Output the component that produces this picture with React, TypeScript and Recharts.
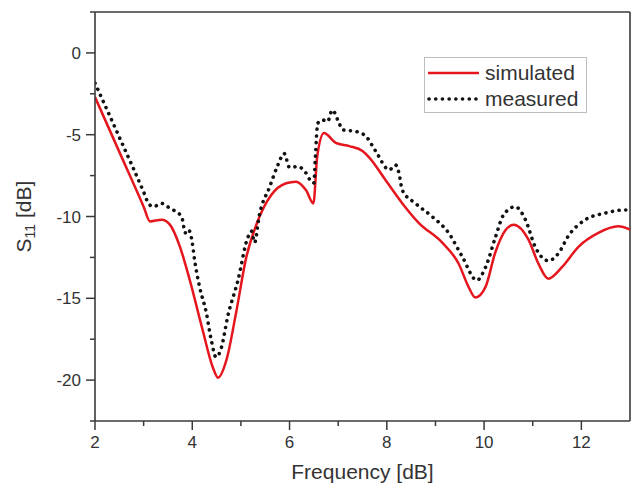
import React from "react";
import { LineChart, Line, XAxis, YAxis, Legend, ReferenceLine } from "recharts";

// simulated S11 (red solid)
const simFreq = [
  2.0, 2.5, 3.0, 3.13, 3.37, 3.54, 3.74, 3.95, 4.21, 4.42, 4.53, 4.7, 4.9,
  5.11, 5.33, 5.62, 5.93, 6.13, 6.34, 6.49, 6.57, 6.71, 6.95, 7.23, 7.5,
  7.64, 7.98, 8.32, 8.66, 9.14, 9.48, 9.68, 9.82, 10.03, 10.23, 10.45, 10.61,
  10.91, 11.12, 11.32, 11.6, 11.94, 12.35, 12.76, 13.0,
];
const simS11 = [
  -2.7, -6.05, -9.4, -10.3, -10.2, -10.5, -11.8, -13.9, -16.9, -19.2, -19.85,
  -18.8, -15.9, -12.5, -10.4, -8.7, -7.97, -7.87, -8.4, -9.2, -6.3, -4.9,
  -5.5, -5.7, -6.0, -6.4, -7.8, -9.2, -10.4, -11.6, -12.9, -14.3, -14.95,
  -14.3, -12.2, -10.8, -10.5, -11.4, -12.9, -13.8, -13.1, -11.85, -11.0,
  -10.6, -10.8,
];

// measured S11 (black dotted)
const measFreq = [
  2.0, 2.5, 3.0, 3.1, 3.2, 3.37, 3.54, 3.78, 3.86, 3.92, 4.0, 4.05, 4.15,
  4.29, 4.39, 4.49, 4.6, 4.73, 4.94, 5.14, 5.22, 5.28, 5.38, 5.59, 5.76, 5.89,
  6.0, 6.17, 6.34, 6.44, 6.5, 6.53, 6.58, 6.68, 6.78, 6.88, 7.02, 7.09, 7.36,
  7.57, 7.77, 8.05, 8.18, 8.25, 8.32, 8.59, 8.93, 9.27, 9.55, 9.85, 10.03,
  10.23, 10.4, 10.64, 10.85, 11.05, 11.32, 11.53, 11.73, 12.08, 12.48, 12.89,
  13.0,
];
const measS11 = [
  -1.85, -5.15, -8.5, -9.2, -9.4, -9.2, -9.5, -10.0, -11.0, -10.8, -11.6, -12.7,
  -14.3, -15.9, -17.55, -18.6, -18.0, -16.1, -13.9, -11.3, -10.9, -11.6, -9.9,
  -8.2, -6.85, -6.15, -7.0, -6.95, -7.35, -7.85, -7.95, -6.4, -4.3, -4.1,
  -4.2, -3.5, -4.3, -4.7, -4.8, -5.1, -6.0, -7.15, -6.85, -7.35, -8.4, -9.2,
  -10.0, -11.0, -12.45, -13.9, -13.1, -11.3, -9.9, -9.4, -10.2, -11.85,
  -12.7, -12.25, -11.2, -10.2, -9.8, -9.6, -9.6,
];

const xTicks = [2, 3, 4, 5, 6, 7, 8, 9, 10, 11, 12];
const yTicks = [-22.5, -20, -17.5, -15, -12.5, -10, -7.5, -5, -2.5, 0, 2.5];

const simulated = simFreq.map((f, i) => ({ f, s11: simS11[i] }));
const measured = measFreq.map((f, i) => ({ f, s11: measS11[i] }));

const FONT = "Arial, 'Liberation Sans', sans-serif";
const AXIS = "#3a3a3a";
const TEXT = "#333";
const RED = "#e5161d";

const XTick = (props: any) => {
  const { x, y, payload } = props;
  const major = payload.value % 2 === 0;
  return (
    <g>
      <line x1={x} y1={y} x2={x} y2={y + (major ? 9 : 5)} stroke={AXIS} strokeWidth={1.5} />
      {major && (
        <text x={x} y={y + 27} textAnchor="middle" fontSize={17} fill={TEXT} fontFamily={FONT}>
          {payload.value}
        </text>
      )}
    </g>
  );
};

const YTick = (props: any) => {
  const { x, y, payload } = props;
  const major = payload.value % 5 === 0;
  return (
    <g>
      <line x1={x - (major ? 9 : 5)} y1={y} x2={x} y2={y} stroke={AXIS} strokeWidth={1.5} />
      {major && (
        <text x={x - 14} y={y + 6} textAnchor="end" fontSize={17} fill={TEXT} fontFamily={FONT}>
          {payload.value}
        </text>
      )}
    </g>
  );
};

const YLabel = (props: any) => {
  const vb = props.viewBox;
  const cx = 31;
  const cy = vb.y + vb.height / 2;
  return (
    <text
      x={cx}
      y={cy}
      transform={`rotate(-90 ${cx} ${cy})`}
      textAnchor="middle"
      fontSize={21}
      fill={TEXT}
      fontFamily={FONT}
    >
      S<tspan fontSize={14} dy={4}>11</tspan>
      <tspan dy={-4}> [dB]</tspan>
    </text>
  );
};

const XLabel = (props: any) => {
  const vb = props.viewBox;
  return (
    <text
      x={vb.x + vb.width / 2}
      y={vb.y + 58}
      textAnchor="middle"
      fontSize={21}
      fill={TEXT}
      fontFamily={FONT}
    >
      Frequency [dB]
    </text>
  );
};

const LegendBox = () => (
  <div
    style={{
      border: "1px solid #bdbdbd",
      background: "#fff",
      width: 161,
      height: 54,
      fontFamily: FONT,
      fontSize: 21,
      color: TEXT,
      boxSizing: "content-box",
    }}
  >
    <div style={{ display: "flex", alignItems: "center", height: 26, marginTop: 2 }}>
      <svg width={58} height={10}>
        <line x1={3} y1={5} x2={54} y2={5} stroke={RED} strokeWidth={2.5} />
      </svg>
      <span style={{ marginLeft: 2 }}>simulated</span>
    </div>
    <div style={{ display: "flex", alignItems: "center", height: 26 }}>
      <svg width={58} height={10}>
        <line
          x1={4}
          y1={5}
          x2={54}
          y2={5}
          stroke="#111"
          strokeWidth={3.6}
          strokeDasharray="0.1 6.6"
          strokeLinecap="round"
        />
      </svg>
      <span style={{ marginLeft: 2 }}>measured</span>
    </div>
  </div>
);

export default function App() {
  return (
    <div style={{ position: "absolute", left: 0, top: 0, background: "#fff" }}>
      <LineChart width={632} height={486} margin={{ top: 12, right: 2, bottom: 0, left: 0 }}>
        <XAxis
          dataKey="f"
          type="number"
          domain={[2, 13]}
          ticks={xTicks}
          interval={0}
          allowDataOverflow
          height={65}
          tickSize={0}
          tickMargin={0}
          tickLine={false}
          tick={<XTick />}
          axisLine={{ stroke: AXIS, strokeWidth: 1.6 }}
          label={XLabel}
        />
        <YAxis
          type="number"
          domain={[-22.5, 2.5]}
          ticks={yTicks}
          interval={0}
          allowDataOverflow
          width={95}
          tickSize={0}
          tickMargin={0}
          tickLine={false}
          tick={<YTick />}
          axisLine={{ stroke: AXIS, strokeWidth: 1.6 }}
          label={YLabel}
        />
        {/* plot frame: top and right edges */}
        <ReferenceLine y={2.5} stroke={AXIS} strokeWidth={1.6} />
        <ReferenceLine x={13} stroke={AXIS} strokeWidth={1.6} />
        <Legend
          layout="vertical"
          align="center"
          verticalAlign="middle"
          content={<LegendBox />}
          wrapperStyle={{ left: 424, top: 57, width: 163, height: 56 }}
        />
        <Line
          data={simulated}
          dataKey="s11"
          name="simulated"
          type="monotone"
          stroke={RED}
          strokeWidth={2.5}
          dot={false}
          isAnimationActive={false}
        />
        <Line
          data={measured}
          dataKey="s11"
          name="measured"
          type="monotone"
          stroke="#111"
          strokeWidth={3.6}
          strokeDasharray="0.1 6.6"
          strokeLinecap="round"
          dot={false}
          isAnimationActive={false}
        />
      </LineChart>
    </div>
  );
}
